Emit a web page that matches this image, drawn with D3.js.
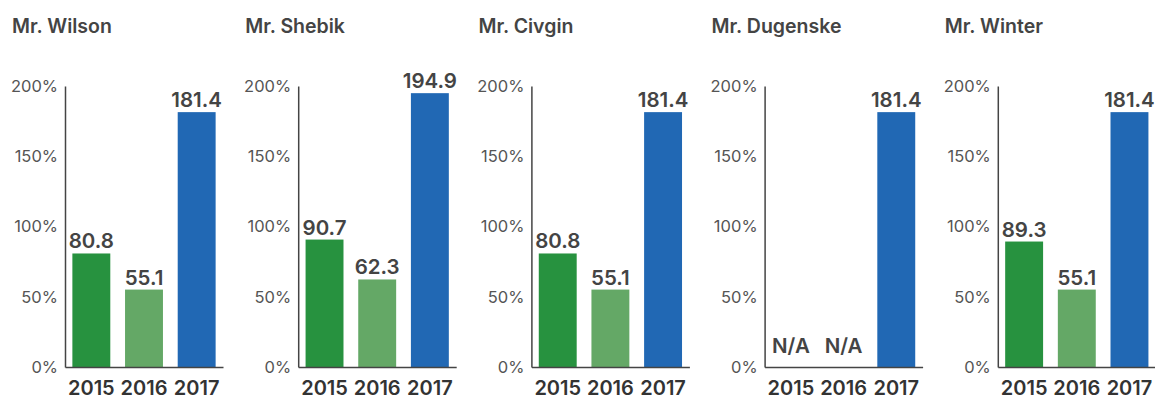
<!DOCTYPE html>
<html>
<head>
<meta charset="utf-8">
<script src="https://cdn.jsdelivr.net/npm/d3@7/dist/d3.min.js"></script>
<style>
  html, body { margin: 0; padding: 0; background: #fff; }
  svg { display: block; }
  text { font-family: Inter, 'Liberation Sans', Arial, sans-serif; }
</style>
</head>
<body>
<svg id="chart" width="1155" height="401"></svg>
<script>
// ── DATA ──────────────────────────────────────────────────────────────────────
const people = ['Mr. Wilson', 'Mr. Shebik', 'Mr. Civgin', 'Mr. Dugenske', 'Mr. Winter'];
const years  = ['2015', '2016', '2017'];
const values = [
  [80.8, 55.1, 181.4],
  [90.7, 62.3, 194.9],
  [80.8, 55.1, 181.4],
  [null, null, 181.4],
  [89.3, 55.1, 181.4]
];
const yTicks = [0, 50, 100, 150, 200];
const barColors = ['#27923f', '#64a866', '#2168b4'];

// ── LAYOUT ────────────────────────────────────────────────────────────────────
const FONT = "Inter, 'Liberation Sans', Arial, sans-serif";
const svg = d3.select('#chart');
const firstAxisX = 65;
const panelStep  = 233.2;
const plotWidth  = 158;

const y = d3.scaleLinear().domain([0, 200]).range([367, 86]);

people.forEach((name, i) => {
  const ax = firstAxisX + i * panelStep;
  const g  = svg.append('g');

  const x = d3.scaleBand()
    .domain(years)
    .range([ax, ax + plotWidth])
    .paddingInner(0.28)
    .paddingOuter(0.14);

  // title
  g.append('text')
    .attr('x', ax - 53)
    .attr('y', 33)
    .attr('fill', '#444')
    .attr('font-size', '19.5px')
    .attr('font-weight', 600)
    .text(name);

  // bars
  years.forEach((yr, j) => {
    const v = values[i][j];
    if (v == null) return;
    g.append('rect')
      .attr('x', x(yr))
      .attr('y', y(v))
      .attr('width', x.bandwidth())
      .attr('height', y(0) - y(v))
      .attr('fill', barColors[j]);
  });

  // value labels
  years.forEach((yr, j) => {
    const v = values[i][j];
    g.append('text')
      .attr('x', x(yr) + x.bandwidth() / 2)
      .attr('y', v == null ? y(0) - 14 : y(v) - 5)
      .attr('text-anchor', 'middle')
      .attr('fill', '#444')
      .attr('font-size', '20.5px')
      .attr('font-weight', 600)
      .text(v == null ? 'N/A' : v.toFixed(1));
  });

  // y axis
  const yAxis = g.append('g')
    .attr('transform', `translate(${ax},0)`)
    .call(d3.axisLeft(y).tickValues(yTicks).tickSize(0).tickPadding(7)
      .tickFormat(d => d + '%'));
  yAxis.select('.domain').attr('stroke', '#444').attr('stroke-width', 1.5);
  yAxis.selectAll('text')
    .attr('fill', '#555')
    .attr('font-size', '16.5px')
    .attr('font-family', FONT);

  // x axis
  const xAxis = g.append('g')
    .attr('transform', `translate(0,${y(0)})`)
    .call(d3.axisBottom(x).tickSize(0).tickPadding(14));
  xAxis.select('.domain').attr('stroke', '#444').attr('stroke-width', 1.5);
  xAxis.selectAll('text')
    .attr('fill', '#333')
    .attr('font-size', '20px')
    .attr('font-weight', 600)
    .attr('font-family', FONT);
});
</script>
</body>
</html>
